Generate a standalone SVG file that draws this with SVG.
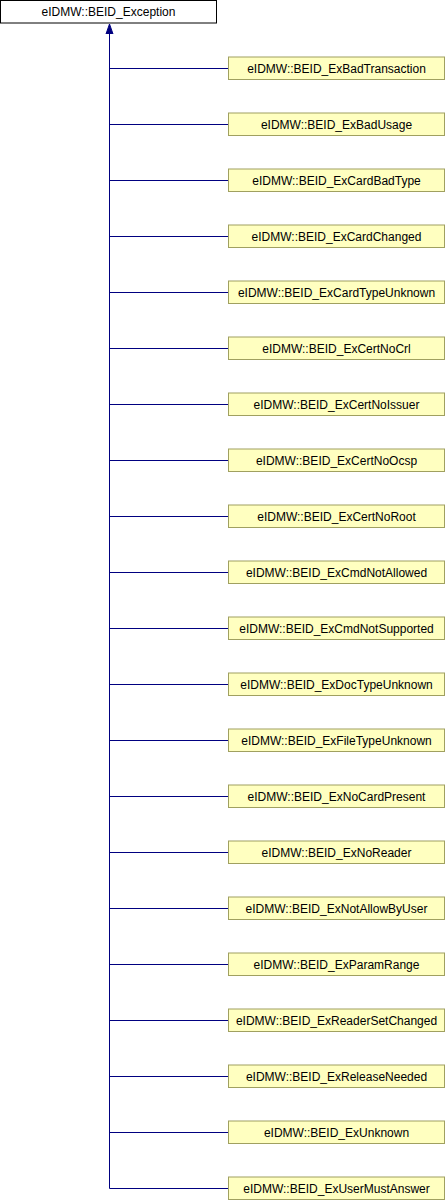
<svg xmlns="http://www.w3.org/2000/svg" width="446" height="1200" viewBox="0 0 446 1200">
<style>
.base rect{fill:#ffffff;stroke:#000000;stroke-width:1}
.node rect{fill:#ffffc0;stroke:#a0a060;stroke-width:1}
text{font-family:"Liberation Sans",Arial,sans-serif;font-size:12px;fill:#000000;text-anchor:middle}
.edges path{fill:none;stroke:#000080;stroke-width:1}
</style>
<defs>
<marker id="arr" viewBox="0 0 10 10" refX="10" refY="5" markerWidth="10" markerHeight="10" markerUnits="userSpaceOnUse" orient="auto">
<path d="M0,1.5 L10,5 L0,8.5 Z" fill="#000080" stroke="#000080"/>
</marker>
</defs>
<g id="n0" class="base"><rect x="0.5" y="0.5" width="216" height="22.5"/><text x="108.5" y="16.2">eIDMW::BEID_Exception</text></g>
<g class="edges">
<path d="M109.5,1188.5 L109.5,24" marker-end="url(#arr)"/>
<path d="M109.5,68.5 H228.5"/>
<path d="M109.5,124.5 H228.5"/>
<path d="M109.5,180.5 H228.5"/>
<path d="M109.5,236.5 H228.5"/>
<path d="M109.5,292.5 H228.5"/>
<path d="M109.5,348.5 H228.5"/>
<path d="M109.5,404.5 H228.5"/>
<path d="M109.5,460.5 H228.5"/>
<path d="M109.5,516.5 H228.5"/>
<path d="M109.5,572.5 H228.5"/>
<path d="M109.5,628.5 H228.5"/>
<path d="M109.5,684.5 H228.5"/>
<path d="M109.5,740.5 H228.5"/>
<path d="M109.5,796.5 H228.5"/>
<path d="M109.5,852.5 H228.5"/>
<path d="M109.5,908.5 H228.5"/>
<path d="M109.5,964.5 H228.5"/>
<path d="M109.5,1020.5 H228.5"/>
<path d="M109.5,1076.5 H228.5"/>
<path d="M109.5,1132.5 H228.5"/>
<path d="M109.5,1188.5 H228.5"/>
</g>
<g id="n1" class="node"><rect x="228.5" y="57" width="216" height="22.5"/><text x="336.5" y="72.6">eIDMW::BEID_ExBadTransaction</text></g>
<g id="n2" class="node"><rect x="228.5" y="113" width="216" height="22.5"/><text x="336.5" y="128.6">eIDMW::BEID_ExBadUsage</text></g>
<g id="n3" class="node"><rect x="228.5" y="169" width="216" height="22.5"/><text x="336.5" y="184.6">eIDMW::BEID_ExCardBadType</text></g>
<g id="n4" class="node"><rect x="228.5" y="225" width="216" height="22.5"/><text x="336.5" y="240.6">eIDMW::BEID_ExCardChanged</text></g>
<g id="n5" class="node"><rect x="228.5" y="281" width="216" height="22.5"/><text x="336.5" y="296.6">eIDMW::BEID_ExCardTypeUnknown</text></g>
<g id="n6" class="node"><rect x="228.5" y="337" width="216" height="22.5"/><text x="336.5" y="352.6">eIDMW::BEID_ExCertNoCrl</text></g>
<g id="n7" class="node"><rect x="228.5" y="393" width="216" height="22.5"/><text x="336.5" y="408.6">eIDMW::BEID_ExCertNoIssuer</text></g>
<g id="n8" class="node"><rect x="228.5" y="449" width="216" height="22.5"/><text x="336.5" y="464.6">eIDMW::BEID_ExCertNoOcsp</text></g>
<g id="n9" class="node"><rect x="228.5" y="505" width="216" height="22.5"/><text x="336.5" y="520.6">eIDMW::BEID_ExCertNoRoot</text></g>
<g id="n10" class="node"><rect x="228.5" y="561" width="216" height="22.5"/><text x="336.5" y="576.6">eIDMW::BEID_ExCmdNotAllowed</text></g>
<g id="n11" class="node"><rect x="228.5" y="617" width="216" height="22.5"/><text x="336.5" y="632.6">eIDMW::BEID_ExCmdNotSupported</text></g>
<g id="n12" class="node"><rect x="228.5" y="673" width="216" height="22.5"/><text x="336.5" y="688.6">eIDMW::BEID_ExDocTypeUnknown</text></g>
<g id="n13" class="node"><rect x="228.5" y="729" width="216" height="22.5"/><text x="336.5" y="744.6">eIDMW::BEID_ExFileTypeUnknown</text></g>
<g id="n14" class="node"><rect x="228.5" y="785" width="216" height="22.5"/><text x="336.5" y="800.6">eIDMW::BEID_ExNoCardPresent</text></g>
<g id="n15" class="node"><rect x="228.5" y="841" width="216" height="22.5"/><text x="336.5" y="856.6">eIDMW::BEID_ExNoReader</text></g>
<g id="n16" class="node"><rect x="228.5" y="897" width="216" height="22.5"/><text x="336.5" y="912.6">eIDMW::BEID_ExNotAllowByUser</text></g>
<g id="n17" class="node"><rect x="228.5" y="953" width="216" height="22.5"/><text x="336.5" y="968.6">eIDMW::BEID_ExParamRange</text></g>
<g id="n18" class="node"><rect x="228.5" y="1009" width="216" height="22.5"/><text x="336.5" y="1024.6">eIDMW::BEID_ExReaderSetChanged</text></g>
<g id="n19" class="node"><rect x="228.5" y="1065" width="216" height="22.5"/><text x="336.5" y="1080.6">eIDMW::BEID_ExReleaseNeeded</text></g>
<g id="n20" class="node"><rect x="228.5" y="1121" width="216" height="22.5"/><text x="336.5" y="1136.6">eIDMW::BEID_ExUnknown</text></g>
<g id="n21" class="node"><rect x="228.5" y="1177" width="216" height="22.5"/><text x="336.5" y="1192.6">eIDMW::BEID_ExUserMustAnswer</text></g>
</svg>
